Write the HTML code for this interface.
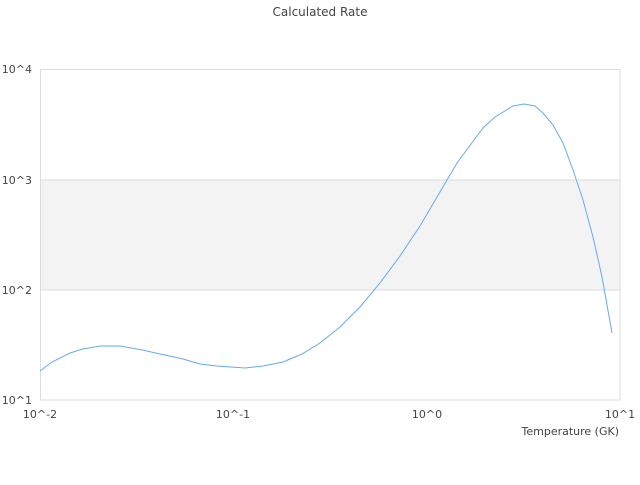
<!DOCTYPE html>
<html><head><meta charset="utf-8"><style>
body{margin:0;background:#fff;}
svg text{font-family:"DejaVu Sans","Liberation Sans",sans-serif;font-size:11px;fill:#444;}
</style></head><body>
<svg width="640" height="480" viewBox="0 0 640 480" xmlns="http://www.w3.org/2000/svg">
<rect x="40" y="180" width="580" height="110" fill="#f3f3f3"/>
<line x1="40" y1="180" x2="620" y2="180" stroke="#dddddd"/>
<line x1="40" y1="290" x2="620" y2="290" stroke="#dddddd"/>
<rect x="40.5" y="69.5" width="579.5" height="330.5" fill="none" stroke="#dddddd"/>
<polyline fill="none" stroke="#66aaee" stroke-width="1" points="40,371 52,362 70,353 83,349 100,346 120,346 137,349 147,351 160,354 183,359 200,364 217,366 245,368 263,366 283,362 302,354 320,343 340,327 360,307 380,283 400,256 420,226 447,180 457,163 483,128 495,117 513,106 524,104 535,106 543,113 553,125 563,143 573,170 583,200 593,237 602,277 612,333"/>
<text x="320" y="16" text-anchor="middle" style="font-size:12px">Calculated Rate</text>
<text x="32" y="73" text-anchor="end">10^4</text>
<text x="32" y="184" text-anchor="end">10^3</text>
<text x="32" y="294" text-anchor="end">10^2</text>
<text x="32" y="404" text-anchor="end">10^1</text>
<text x="40" y="418" text-anchor="middle">10^-2</text>
<text x="233" y="418" text-anchor="middle">10^-1</text>
<text x="427" y="418" text-anchor="middle">10^0</text>
<text x="620" y="418" text-anchor="middle">10^1</text>
<text x="619" y="435" text-anchor="end">Temperature (GK)</text>
</svg>
</body></html>
